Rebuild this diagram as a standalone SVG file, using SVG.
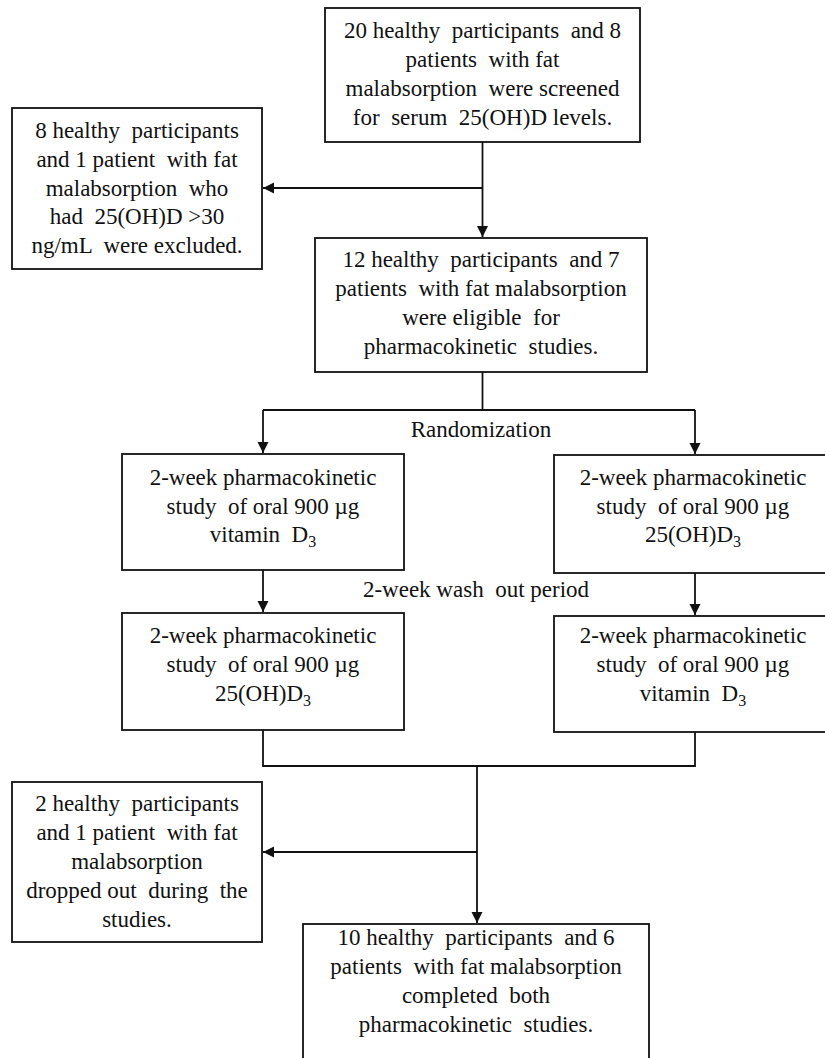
<svg xmlns="http://www.w3.org/2000/svg" width="825" height="1058" viewBox="0 0 825 1058">
<style>
  .box { fill: #ffffff; stroke: #111111; stroke-width: 1.8; }
  text { font-family: 'Liberation Serif', 'Times New Roman', Tinos, 'DejaVu Serif', serif; font-size: 23px; fill: #111111; text-anchor: middle; white-space: pre; }
  .sub { font-size: 16px; }
  .c { fill: none; stroke: #111111; stroke-width: 1.8; }
</style>
<defs>
  <marker id="ah" markerUnits="userSpaceOnUse" markerWidth="12" markerHeight="12" refX="11" refY="5.5" orient="auto">
    <path d="M0,0 L11,5.5 L0,11 Z" fill="#111111"/>
  </marker>
</defs>
<rect width="825" height="1058" fill="#ffffff"/>

<g id="connectors">
  <line class="c" x1="482.5" y1="142" x2="482.5" y2="237" marker-end="url(#ah)"/>
  <line class="c" x1="482.5" y1="188" x2="263" y2="188" marker-end="url(#ah)"/>
  <polyline class="c" points="482.5,372 482.5,410"/>
  <line class="c" x1="263" y1="410" x2="695" y2="410"/>
  <line class="c" x1="263" y1="410" x2="263" y2="453" marker-end="url(#ah)"/>
  <line class="c" x1="695" y1="410" x2="695" y2="454" marker-end="url(#ah)"/>
  <line class="c" x1="263" y1="570" x2="263" y2="612" marker-end="url(#ah)"/>
  <line class="c" x1="695" y1="573" x2="695" y2="615" marker-end="url(#ah)"/>
  <polyline class="c" points="263,730 263,766 695,766 695,732"/>
  <line class="c" x1="477" y1="766" x2="477" y2="923" marker-end="url(#ah)"/>
  <line class="c" x1="477" y1="852" x2="263" y2="852" marker-end="url(#ah)"/>
</g>

<g id="screened">
  <rect class="box" x="325" y="8" width="315" height="134"/>
  <text x="482.5" y="38">20 healthy  participants  and 8</text>
  <text x="482.5" y="67">patients  with fat</text>
  <text x="482.5" y="96">malabsorption  were screened</text>
  <text x="482.5" y="125">for  serum  25(OH)D levels.</text>
</g>

<g id="excluded">
  <rect class="box" x="12" y="108" width="250" height="161"/>
  <text x="137" y="138">8 healthy  participants</text>
  <text x="137" y="167">and 1 patient  with fat</text>
  <text x="137" y="196">malabsorption  who</text>
  <text x="137" y="224">had  25(OH)D &gt;30</text>
  <text x="137" y="253">ng/mL  were excluded.</text>
</g>

<g id="eligible">
  <rect class="box" x="315" y="238" width="332" height="134"/>
  <text x="481" y="267">12 healthy  participants  and 7</text>
  <text x="481" y="296">patients  with fat malabsorption</text>
  <text x="481" y="325">were eligible  for</text>
  <text x="481" y="354">pharmacokinetic  studies.</text>
</g>

<g id="randomization">
  <text x="481" y="437">Randomization</text>
</g>

<g id="period1-vitD3">
  <rect class="box" x="122" y="454" width="282" height="116"/>
  <text x="263" y="485">2-week pharmacokinetic</text>
  <text x="263" y="514">study  of oral 900 µg</text>
  <text x="263" y="542">vitamin  D<tspan class="sub" dy="5">3</tspan></text>
</g>

<g id="period1-25OHD3">
  <rect class="box" x="554" y="455" width="280" height="118"/>
  <text x="693" y="485">2-week pharmacokinetic</text>
  <text x="693" y="514">study  of oral 900 µg</text>
  <text x="693" y="542">25(OH)D<tspan class="sub" dy="5">3</tspan></text>
</g>

<g id="washout">
  <text x="476" y="597">2-week wash  out period</text>
</g>

<g id="period2-25OHD3">
  <rect class="box" x="122" y="613" width="282" height="117"/>
  <text x="263" y="643">2-week pharmacokinetic</text>
  <text x="263" y="672">study  of oral 900 µg</text>
  <text x="263" y="701">25(OH)D<tspan class="sub" dy="5">3</tspan></text>
</g>

<g id="period2-vitD3">
  <rect class="box" x="554" y="616" width="280" height="116"/>
  <text x="693" y="643">2-week pharmacokinetic</text>
  <text x="693" y="672">study  of oral 900 µg</text>
  <text x="693" y="701">vitamin  D<tspan class="sub" dy="5">3</tspan></text>
</g>

<g id="dropped">
  <rect class="box" x="12" y="782" width="250" height="160"/>
  <text x="137" y="811">2 healthy  participants</text>
  <text x="137" y="840">and 1 patient  with fat</text>
  <text x="137" y="869">malabsorption</text>
  <text x="137" y="898">dropped out  during  the</text>
  <text x="137" y="927">studies.</text>
</g>

<g id="completed">
  <rect class="box" x="303" y="924" width="346" height="140"/>
  <text x="476" y="945">10 healthy  participants  and 6</text>
  <text x="476" y="974">patients  with fat malabsorption</text>
  <text x="476" y="1003">completed  both</text>
  <text x="476" y="1032">pharmacokinetic  studies.</text>
</g>
</svg>
